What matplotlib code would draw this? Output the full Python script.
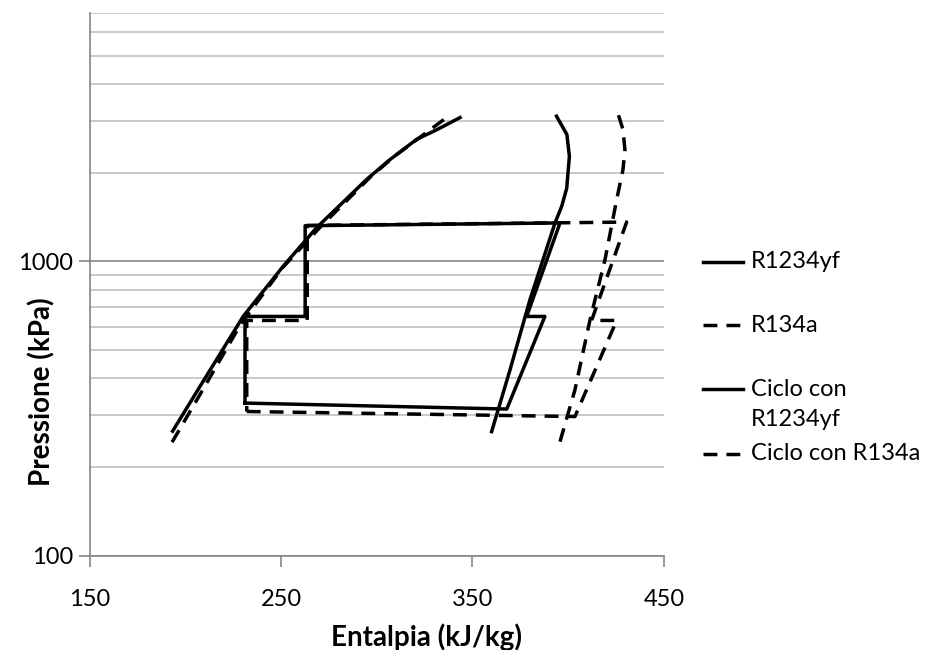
import numpy as np
import matplotlib.pyplot as plt
from matplotlib.lines import Line2D

plt.rcParams['font.family'] = ['Lato', 'DejaVu Sans']

# saturation curves (h in kJ/kg, p in kPa)
h_liq_yf = [193.4, 207.7, 230.3, 251.2, 268.6, 294.8, 306.9, 320.9, 331.3, 343.5]
p_liq_yf = [265, 376, 651, 964, 1302, 1901, 2218, 2600, 2800, 3081]
h_vap_yf = [360.0, 369.6, 380.0, 393.1, 396.6, 399.2, 400.6, 399.3, 393.9]
p_vap_yf = [264, 428, 741, 1351, 1539, 1771, 2276, 2699, 3113]

h_liq_134 = [193.1, 207.7, 228.9, 251.0, 270.4, 296.5, 309.0, 322.6, 337.4]
p_liq_134 = [243, 353, 611, 955, 1306, 1931, 2270, 2641, 3113]
h_vap_134 = [395.7, 403.5, 411.4, 419.2, 425.3, 428.6, 429.6, 428.6, 425.6]
p_vap_134 = [244, 366, 634, 1013, 1621, 2051, 2399, 2805, 3237]

# two-stage cycles
h_cyc_yf = [231.2, 367.9, 387.8, 378.3, 395.7, 262.6, 262.6, 231.2, 231.2]
p_cyc_yf = [330, 315, 650, 650, 1351, 1322, 650, 650, 330]
h_cyc_134 = [232.1, 403.5, 425.3, 412.2, 430.5, 263.7, 263.7, 232.1, 232.1]
p_cyc_134 = [309, 297, 630, 630, 1360, 1325, 630, 630, 309]

labels = ["R1234yf", "R134a", "Ciclo con\nR1234yf", "Ciclo con R134a"]
dash = (0, (4, 2.6))
styles = ["-", dash, "-", dash]

fig = plt.figure(figsize=(9.25, 6.5), dpi=100)
ax = fig.add_axes([0.0968, 0.1451, 0.621, 0.8354])

lw = 2.5
ax.plot(h_liq_yf, p_liq_yf, color="black", lw=lw, ls="-")
ax.plot(h_vap_yf, p_vap_yf, color="black", lw=lw, ls="-")
ax.plot(h_liq_134, p_liq_134, color="black", lw=lw, ls=dash)
ax.plot(h_vap_134, p_vap_134, color="black", lw=lw, ls=dash)
ax.plot(h_cyc_yf, p_cyc_yf, color="black", lw=lw, ls="-")
ax.plot(h_cyc_134, p_cyc_134, color="black", lw=lw, ls=dash)

ax.set_yscale("log")
ax.set_xlim(150, 450)
ax.set_ylim(100, 7000)
ax.set_xticks([150, 250, 350, 450])
ax.set_yticks([100, 1000])
ax.set_yticklabels(["100", "1000"])
ax.yaxis.set_minor_formatter(plt.NullFormatter())
ax.tick_params(axis="y", which="minor", length=0)
ax.tick_params(axis="both", which="major", length=8, width=1.2, color="#868686",
               labelsize=17)
ax.tick_params(axis="x", pad=16)
ax.tick_params(axis="y", pad=4)

ax.grid(True, which="minor", axis="y", color="#c0c0c0", lw=1.2)
ax.grid(True, which="major", axis="y", color="#868686", lw=1.2)
ax.set_axisbelow(True)
for s in ["top", "right"]:
    ax.spines[s].set_visible(False)
for s in ["left", "bottom"]:
    ax.spines[s].set_color("#868686")
    ax.spines[s].set_linewidth(1.2)

ax.set_xlabel("Entalpia (kJ/kg)", fontsize=20, fontweight="bold")
ax.set_ylabel("Pressione (kPa)", fontsize=20, fontweight="bold")
ax.xaxis.set_label_coords(0.586, -0.124)
ax.yaxis.set_label_coords(-0.06, 0.3015)

# legend drawn in figure pixels, handle aligned with the first text line
W, H = 925, 650
rows = [262, 325, 389, 454]
for lab, st, y in zip(labels, styles, rows):
    fig.add_artist(Line2D([703 / W, 743 / W], [1 - y / H, 1 - y / H],
                          color="black", lw=lw, ls=st, transform=fig.transFigure))
    for i, part in enumerate(lab.split("\n")):
        fig.text(751 / W, 1 - (y + i * 31) / H, part, fontsize=17,
                 va="center", ha="left")

fig.savefig("out.png", dpi=100)
